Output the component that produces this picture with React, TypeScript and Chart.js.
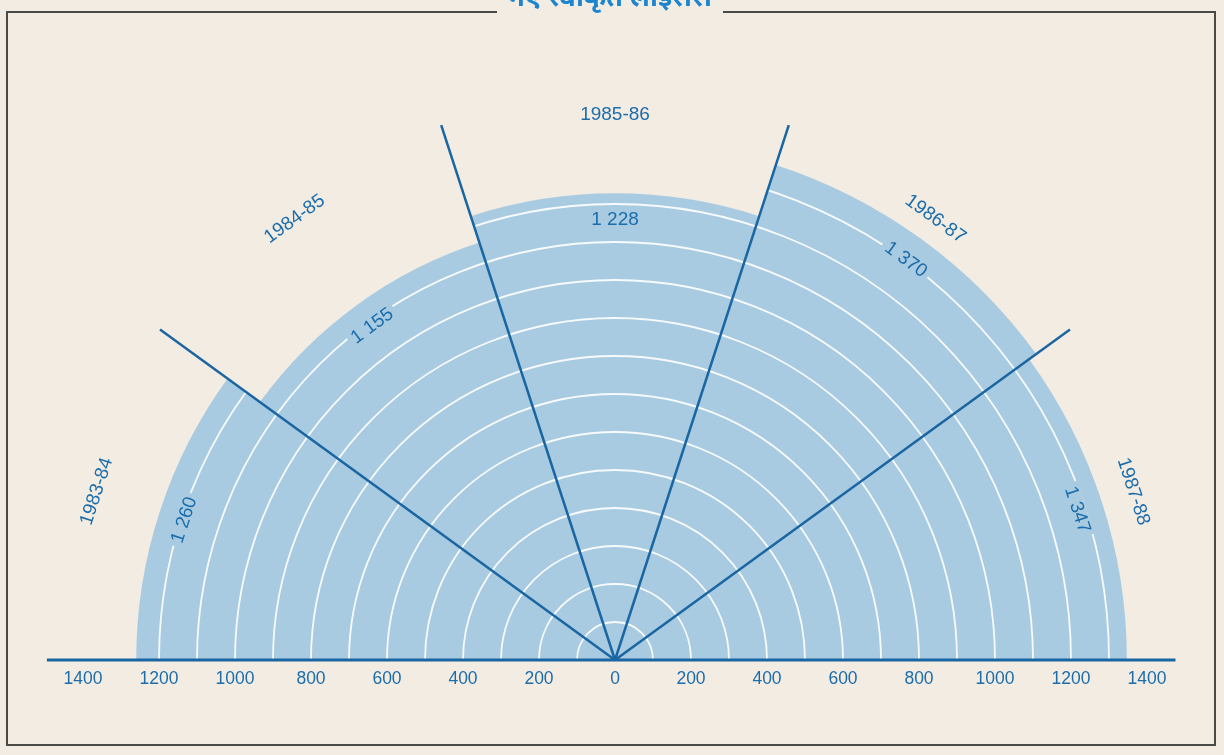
import React, { useEffect, useRef } from "react";
import { Chart, registerables } from "chart.js";

Chart.register(...registerables);

const chartTitle = "नए स्वीकृत लाइसेंस";
const years = ["1983-84", "1984-85", "1985-86", "1986-87", "1987-88"];
const licences = [1260, 1155, 1228, 1370, 1347];
const valueLabels = ["1 260", "1 155", "1 228", "1 370", "1 347"];
const axisTicks = [-1400, -1200, -1000, -800, -600, -400, -200, 0, 200, 400, 600, 800, 1000, 1200, 1400];
const ringValues = [100, 200, 300, 400, 500, 600, 700, 800, 900, 1000, 1100, 1200, 1300, 1400];
const scaleMax = 1480;

const BG = "#f3ece3";
const FILL = "#a9cbe1";
const LINE = "#1a66a2";
const TEXT = "#1b6dab";
const FONT = "'Liberation Sans', Arial, Helvetica, sans-serif";

const CX = 615;
const CY = 660;
const PX_PER_UNIT = 0.38;

const fanPlugin = {
  id: "fan",
  afterLayout(chart: any) {
    const s = chart.scales.r;
    s.xCenter = CX;
    s.yCenter = CY;
    s.drawingArea = scaleMax * PX_PER_UNIT;
  },
  beforeDraw(chart: any) {
    const ctx = chart.ctx;
    ctx.save();
    ctx.fillStyle = BG;
    ctx.fillRect(0, 0, chart.width, chart.height);
    // frame
    ctx.strokeStyle = "#4a4a46";
    ctx.lineWidth = 2;
    ctx.beginPath();
    ctx.moveTo(497, 12);
    ctx.lineTo(7, 12);
    ctx.lineTo(7, 745);
    ctx.lineTo(1215, 745);
    ctx.lineTo(1215, 12);
    ctx.lineTo(723, 12);
    ctx.stroke();
    // title
    ctx.fillStyle = "#1b86cf";
    ctx.font = `bold 27px 'Noto Sans', ${FONT}`;
    ctx.textAlign = "center";
    ctx.textBaseline = "alphabetic";
    ctx.fillText(chartTitle, 610, 6);
    ctx.restore();
  },
  afterDatasetsDraw(chart: any) {
    const ctx = chart.ctx;
    const s = chart.scales.r;
    const meta = chart.getDatasetMeta(0);
    const arcs = meta.data as any[];
    const x = s.xCenter;
    const y = s.yCenter;

    // white rings clipped to sectors
    ctx.save();
    ctx.beginPath();
    arcs.forEach((a) => {
      const p = a.getProps(["startAngle", "endAngle", "outerRadius"], true);
      ctx.moveTo(x, y);
      ctx.arc(x, y, p.outerRadius, p.startAngle, p.endAngle);
      ctx.closePath();
    });
    ctx.clip();
    ctx.strokeStyle = "rgba(255,255,255,0.9)";
    ctx.lineWidth = 1.8;
    ringValues.forEach((v) => {
      ctx.beginPath();
      ctx.arc(x, y, s.getDistanceFromCenterForValue(v), Math.PI, 2 * Math.PI);
      ctx.stroke();
    });
    ctx.restore();

    ctx.save();
    ctx.textAlign = "center";
    ctx.textBaseline = "middle";
    arcs.forEach((a, i) => {
      const p = a.getProps(["startAngle", "endAngle", "outerRadius"], true);
      const mid = (p.startAngle + p.endAngle) / 2;
      // value labels
      ctx.font = `19px ${FONT}`;
      const r = s.getDistanceFromCenterForValue(licences[i]) - 26;
      ctx.save();
      ctx.translate(x + r * Math.cos(mid), y + r * Math.sin(mid));
      ctx.rotate(mid + Math.PI / 2);
      const w = ctx.measureText(valueLabels[i]).width;
      ctx.fillStyle = FILL;
      ctx.fillRect(-w / 2 - 4, -9, w + 8, 18);
      ctx.fillStyle = TEXT;
      ctx.fillText(valueLabels[i], 0, 0);
      ctx.restore();
      // year labels
      ctx.font = `19px ${FONT}`;
      const ry = 545;
      ctx.save();
      ctx.translate(x + ry * Math.cos(mid), y + ry * Math.sin(mid));
      ctx.rotate(mid + Math.PI / 2);
      ctx.fillStyle = TEXT;
      ctx.fillText(years[i], 0, 0);
      ctx.restore();
    });

    // divider lines
    const len = s.getDistanceFromCenterForValue(scaleMax);
    ctx.strokeStyle = LINE;
    ctx.lineWidth = 2.5;
    arcs.forEach((a, i) => {
      if (i === 0) return;
      const p = a.getProps(["startAngle"], true);
      ctx.beginPath();
      ctx.moveTo(x, y);
      ctx.lineTo(x + len * Math.cos(p.startAngle), y + len * Math.sin(p.startAngle));
      ctx.stroke();
    });

    // baseline axis
    const left = x - s.getDistanceFromCenterForValue(1495);
    const right = x + s.getDistanceFromCenterForValue(1475);
    ctx.lineWidth = 3;
    ctx.beginPath();
    ctx.moveTo(left, y);
    ctx.lineTo(right, y);
    ctx.stroke();

    // axis tick labels
    ctx.fillStyle = TEXT;
    ctx.font = `17.5px ${FONT}`;
    ctx.textAlign = "center";
    ctx.textBaseline = "middle";
    axisTicks.forEach((t) => {
      const d = s.getDistanceFromCenterForValue(Math.abs(t));
      const tx = t < 0 ? x - d : x + d;
      ctx.fillText(String(Math.abs(t)), tx, y + 19);
    });
    ctx.restore();
  },
};

export default function App() {
  const ref = useRef<HTMLCanvasElement | null>(null);
  useEffect(() => {
    if (!ref.current) return;
    const chart = new Chart(ref.current, {
      type: "polarArea",
      data: {
        labels: years,
        datasets: [
          {
            data: licences,
            backgroundColor: FILL,
            borderWidth: 0,
            angle: 36,
          } as any,
        ],
      },
      options: {
        animation: false,
        responsive: true,
        maintainAspectRatio: false,
        layout: { padding: 0 },
        plugins: {
          legend: { display: false },
          tooltip: { enabled: false },
          title: { display: false },
        },
        scales: {
          r: {
            min: 0,
            max: scaleMax,
            startAngle: -90,
            ticks: { display: false },
            grid: { display: false },
            angleLines: { display: false },
            pointLabels: { display: false },
          },
        },
      } as any,
      plugins: [fanPlugin],
    });
    return () => chart.destroy();
  }, []);
  return (
    <div style={{ position: "absolute", left: 0, top: 0, width: 1224, height: 755, background: BG }}>
      <canvas ref={ref} />
    </div>
  );
}
